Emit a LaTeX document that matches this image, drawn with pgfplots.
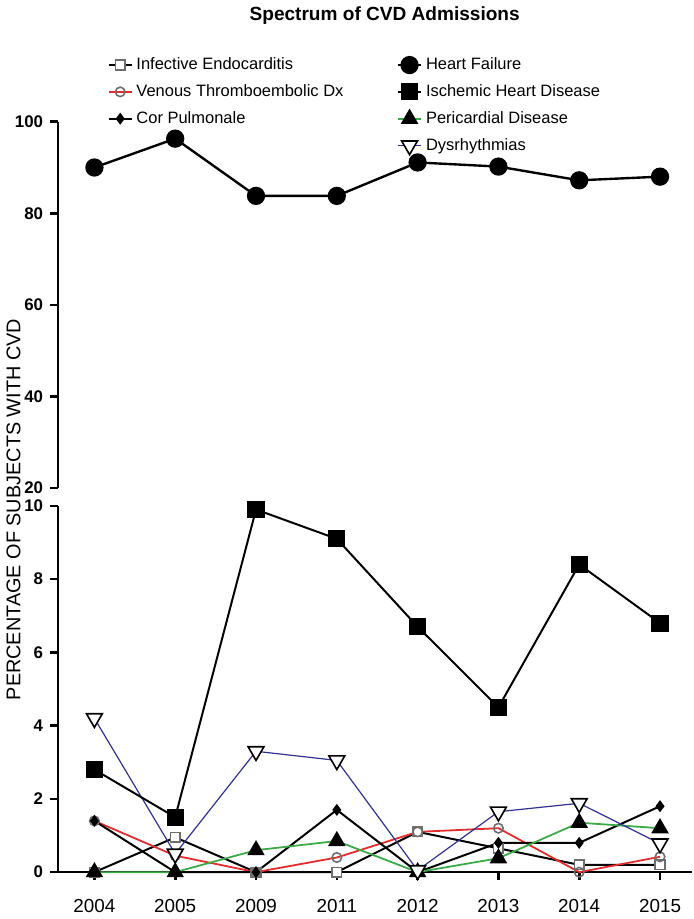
\documentclass[border=0pt]{standalone}
\usepackage{fontspec}
\setmainfont{Liberation Sans}
\usepackage{pgfplots}
\usepackage{pgfplotstable}
\pgfplotsset{compat=1.18}
\definecolor{vtered}{HTML}{E52B2B}
\definecolor{pdgreen}{HTML}{3DAA48}
\definecolor{dysblue}{HTML}{2E3192}
\definecolor{iegray}{HTML}{6E6E6E}

% heart failure, upper segment
\pgfplotstableread{
x hf
0 90.0
1 96.3
2 83.8
3 83.8
4 91.1
5 90.2
6 87.2
7 88.0
}\updata

% everything else, lower segment
\pgfplotstableread{
x ie vte cp ihd pd dys
0 0 1.4 1.4 2.8 0 4.2
1 0.95 0.45 0 1.5 0 0.5
2 0 0 0 9.9 0.6 3.3
3 0 0.4 1.7 9.1 0.85 3.05
4 1.1 1.1 0 6.7 0 0.05
5 0.65 1.2 0.8 4.5 0.38 1.65
6 0.2 0 0.8 8.4 1.35 1.88
7 0.2 0.42 1.8 6.8 1.2 0.78
}\lowdata

\pgfplotsset{
  brk/.style={width=319.5pt, height=184.5pt, scale only axis,
    xmin=-0.45, xmax=7.4, axis y line*=left,
    axis line style={line width=1.3pt, -},
    every tick/.style={line width=1.3pt, black},
    major tick length=4pt, tick align=outside,
    yticklabel style={font=\fontsize{8.5}{10}\selectfont\bfseries},
    /pgf/number format/assume math mode=true, clip=false},
  hf/.style={black, line width=1.2pt, mark=*, mark size=4pt},
  ihd/.style={black, line width=1pt, mark=square*, mark size=3.8pt},
  ie/.style={black, line width=1pt, mark=square*, mark size=2.4pt,
    mark options={draw=iegray, fill=white, line width=0.8pt}},
  vte/.style={vtered, line width=0.9pt, mark=o, mark size=2.4pt,
    mark options={draw=iegray, fill=white, line width=0.8pt}},
  cp/.style={black, line width=1pt, mark=diamond*, mark size=2.2pt},
  pd/.style={pdgreen, line width=0.9pt, mark=triangle*, mark size=4.2pt,
    mark options={draw=black, fill=black}},
  dys/.style={dysblue, line width=0.6pt, mark=triangle*, mark size=4.6pt,
    mark options={draw=black, fill=white, rotate=180, line width=0.8pt}},
}

\begin{document}
\begin{tikzpicture}
\begin{axis}[brk, at={(0,0)}, anchor=south west,
  ymin=0, ymax=10, ytick={0,2,...,10},
  axis x line*=bottom, xtick={0,...,7},
  xticklabels={2004,2005,2009,2011,2012,2013,2014,2015},
  xticklabel style={font=\fontsize{9.5}{11}\selectfont},
  xticklabel shift=6pt]
\addplot[ie] table[x=x, y=ie] {\lowdata};
\addplot[vte] table[x=x, y=vte] {\lowdata};
\addplot[cp] table[x=x, y=cp] {\lowdata};
\addplot[pd] table[x=x, y=pd] {\lowdata};
\addplot[dys] table[x=x, y=dys] {\lowdata};
\addplot[ihd] table[x=x, y=ihd] {\lowdata};
\node[rotate=90, font=\fontsize{10}{12}\selectfont] at (rel axis cs:-0.07,0.99)
  {PERCENTAGE OF SUBJECTS WITH CVD};
\end{axis}

\begin{axis}[brk, at={(0,193.5pt)}, anchor=south west,
  ymin=20, ymax=100, ytick={20,40,...,100},
  axis x line=none, xtick=\empty,
  legend columns=2,
  legend cell align=left,
  legend style={at={(rel axis cs:0.078,1.187)}, anchor=north west,
    draw=none, fill=none, inner sep=0pt, row sep=2pt,
    font=\fontsize{8.3}{10}\selectfont,
    /tikz/every even column/.append style={column sep=25pt}},
  legend image code/.code={\draw[mark repeat=2, mark phase=2]
    plot coordinates {(0cm,0cm) (0.2cm,0cm) (0.4cm,0cm)};}]
\addplot[hf, forget plot] table[x=x, y=hf] {\updata};
\addlegendimage{ie}\addlegendentry{Infective Endocarditis}
\addlegendimage{hf}\addlegendentry{Heart Failure}
\addlegendimage{vte}\addlegendentry{Venous Thromboembolic Dx}
\addlegendimage{ihd}\addlegendentry{Ischemic Heart Disease}
\addlegendimage{cp}\addlegendentry{Cor Pulmonale}
\addlegendimage{pd}\addlegendentry{Pericardial Disease}
\addlegendimage{empty legend}\addlegendentry{}
\addlegendimage{dys}\addlegendentry{Dysrhythmias}
\node[font=\fontsize{9.6}{11}\selectfont\bfseries] at (rel axis cs:0.515,1.29)
  {Spectrum of CVD Admissions};
\end{axis}
\end{tikzpicture}
\end{document}
